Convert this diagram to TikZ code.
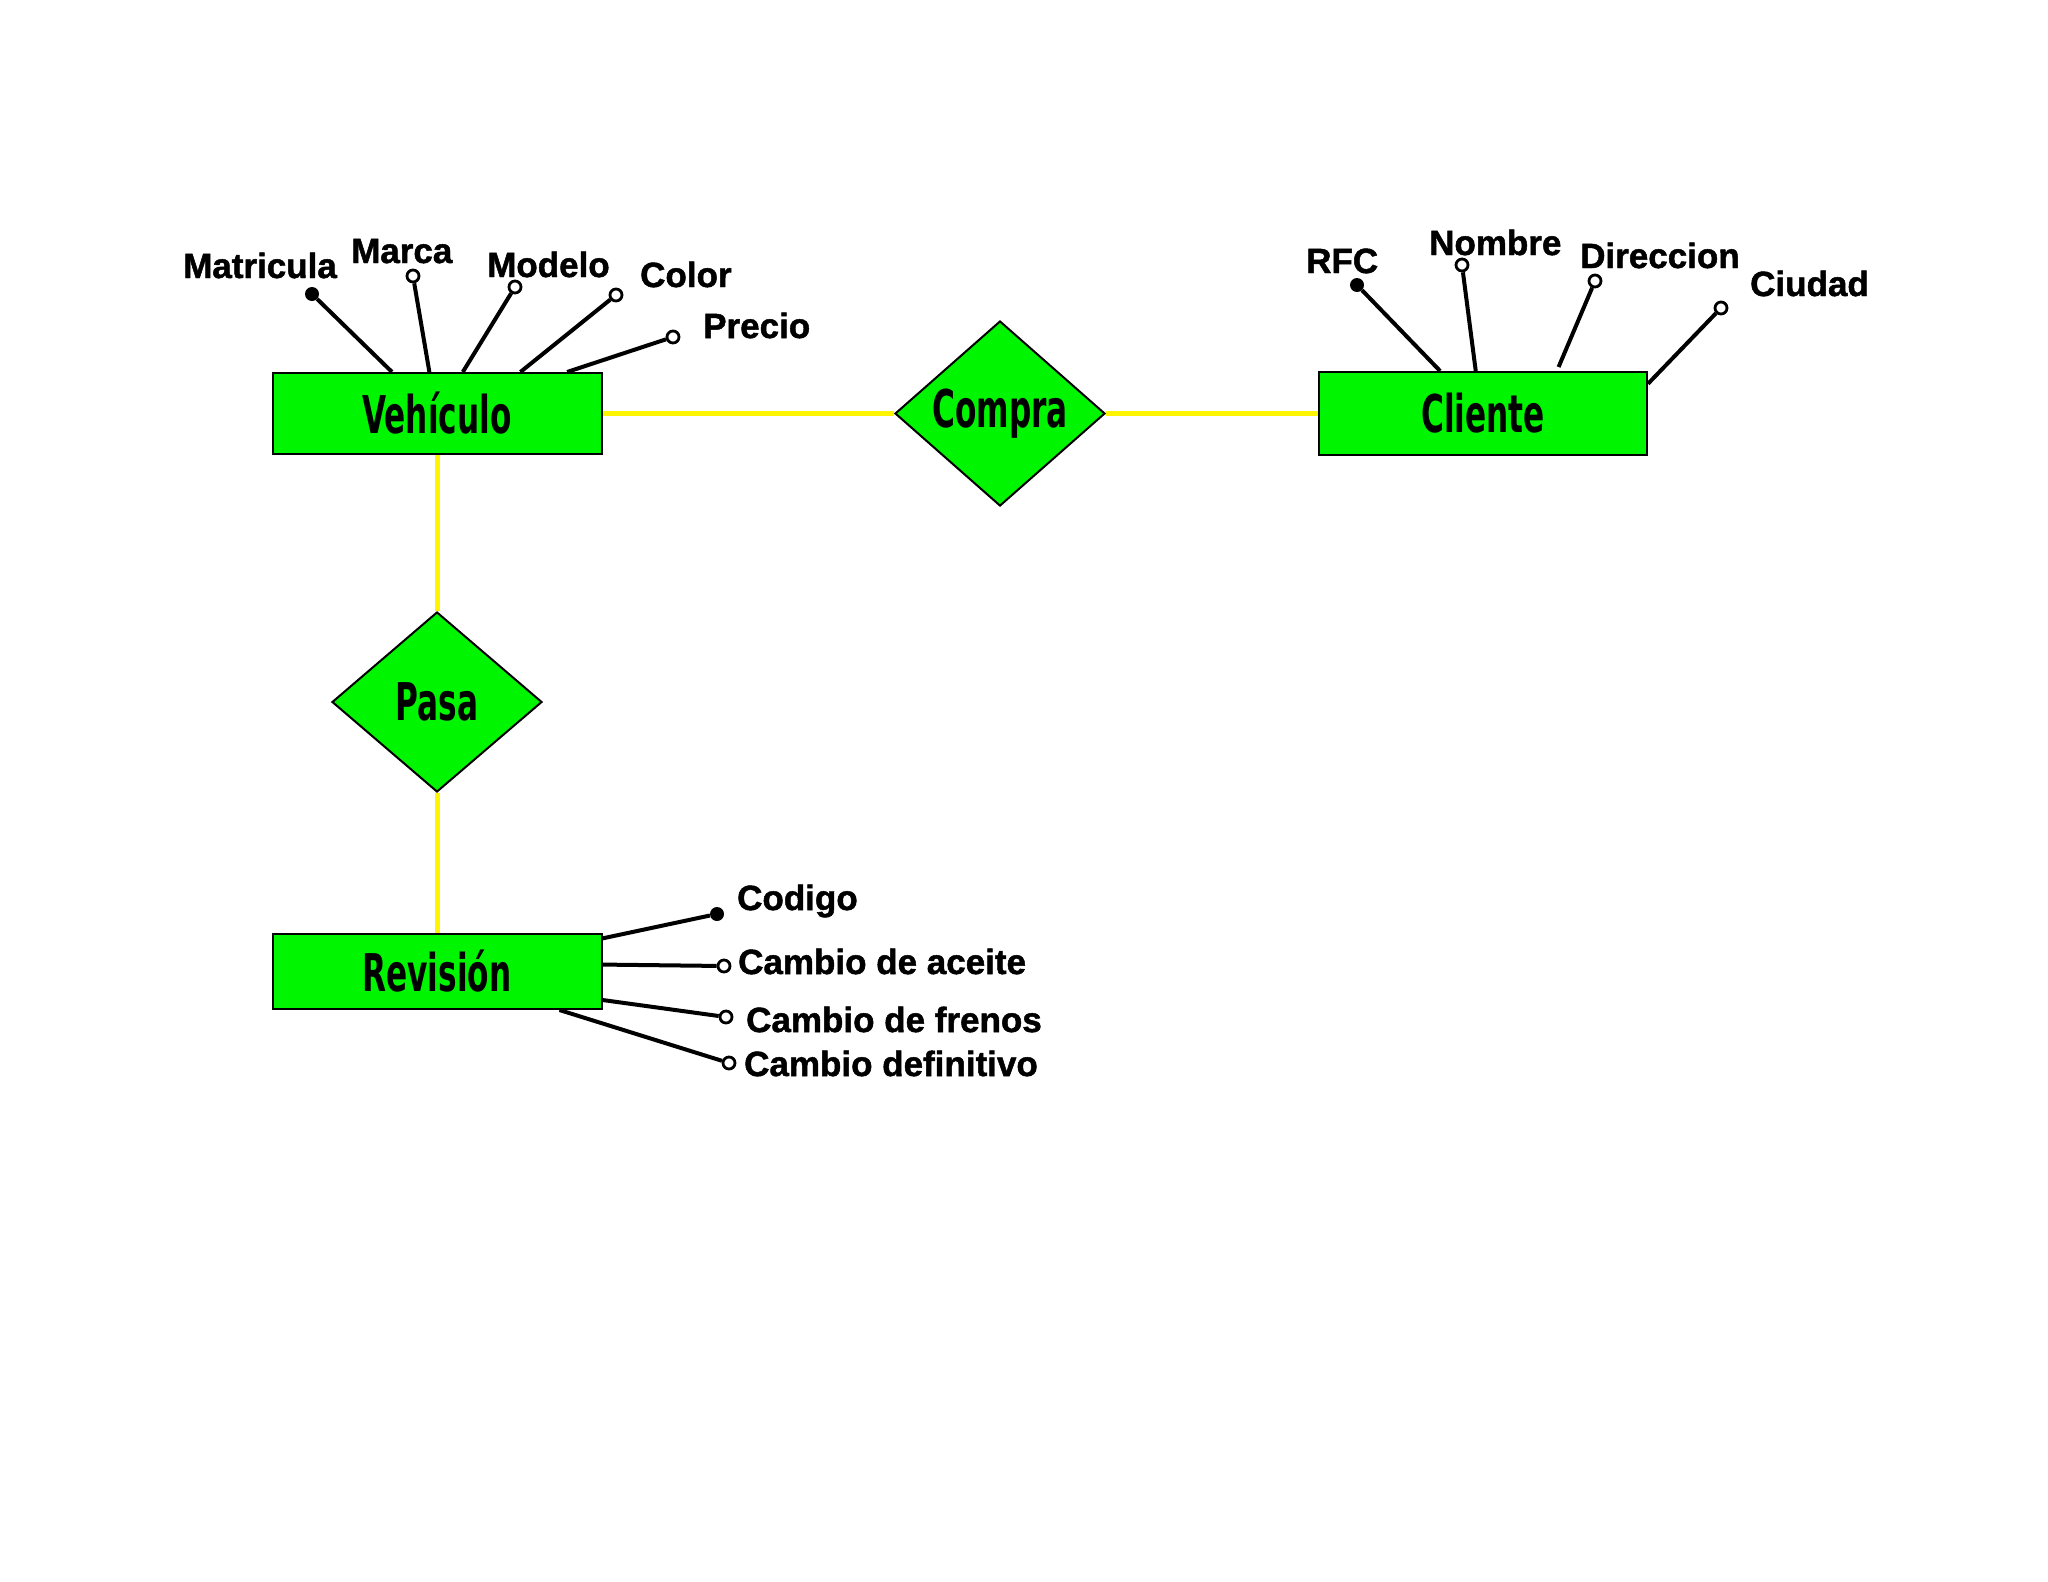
\documentclass[tikz,border=0pt]{standalone}
\usepackage{fontspec}
\setmainfont{Liberation Sans}[BoldFeatures={FakeBold=1.4}]
\newfontfamily\entfont[FakeStretch=0.6]{DejaVu Sans}
\usetikzlibrary{shapes.geometric,calc}

\definecolor{entgreen}{RGB}{0,245,0}
\definecolor{linkyellow}{RGB}{255,245,0}

\tikzset{
    entity/.style={draw=black, line width=2pt, fill=entgreen, inner sep=0pt,
        minimum width=329pt, minimum height=81pt,
        font=\entfont\bfseries\fontsize{52}{52}\selectfont},
    relation/.style={diamond, draw=black, line width=2pt, fill=entgreen, inner sep=0pt,
        minimum width=210pt, minimum height=180pt,
        font=\entfont\bfseries\fontsize{52}{52}\selectfont},
    keydot/.style={circle, fill=black, inner sep=0pt, minimum size=14pt},
    attdot/.style={circle, draw=black, fill=white, line width=2.8pt, inner sep=0pt, minimum size=12pt},
    attlabel/.style={anchor=base west, inner sep=0pt, font=\bfseries\fontsize{35}{35}\selectfont},
    attline/.style={line width=4pt},
    link/.style={linkyellow, line width=5pt}
}

\begin{document}
\begin{tikzpicture}[x=1pt,y=-1pt]

    \useasboundingbox[fill=white] (0,0) rectangle (2048,1582);

    % Entities and relations
    \node[entity] (veh) at (437,413.5) {Vehículo};
    \node[relation] (compra) at (1000,413.5) {Compra};
    \node[entity, minimum width=328pt, minimum height=83pt] (cli) at (1483,413.5) {Cliente};
    \node[relation] (pasa) at (437,702) {Pasa};
    \node[entity, minimum height=75pt] (rev) at (437,971.5) {Revisión};

    % Links
    \draw[link] (veh) -- (compra);
    \draw[link] (compra) -- (cli);
    \draw[link] (veh) -- (pasa);
    \draw[link] (pasa) -- (rev);

    % Vehiculo attributes
    \node[keydot] (matricula) at (312,294) {};
    \node[attdot] (marca) at (413,276) {};
    \node[attdot] (modelo) at (515,287) {};
    \node[attdot] (color) at (616,295) {};
    \node[attdot] (precio) at (673,337) {};
    \draw[attline] (matricula) -- ($(veh.north west)!0.364!(veh.north east)$);
    \draw[attline] (marca) -- ($(veh.north west)!0.477!(veh.north east)$);
    \draw[attline] (modelo) -- ($(veh.north west)!0.578!(veh.north east)$);
    \draw[attline] (color) -- ($(veh.north west)!0.752!(veh.north east)$);
    \draw[attline] (precio) -- ($(veh.north west)!0.893!(veh.north east)$);
    \node[attlabel] (lmatricula) at (183,278) {Matricula};
    \node[attlabel] (lmarca) at (351,263) {Marca};
    \node[attlabel] (lmodelo) at (487,277) {Modelo};
    \node[attlabel] (lcolor) at (640,287) {Color};
    \node[attlabel] (lprecio) at (703,338) {Precio};

    % Cliente attributes
    \node[keydot] (rfc) at (1357,285) {};
    \node[attdot] (nombre) at (1462,265) {};
    \node[attdot] (direccion) at (1595,281) {};
    \node[attdot] (ciudad) at (1721,308) {};
    \draw[attline] (rfc) -- ($(cli.north west)!0.37!(cli.north east)$);
    \draw[attline] (nombre) -- ($(cli.north west)!0.478!(cli.north east)$);
    \draw[attline] (direccion) -- ($(cli.north west)!0.729!(cli.north east)+(0,-4)$);
    \draw[attline] (ciudad) -- ($(cli.north east)!0.15!(cli.south east)$);
    \node[attlabel] (lrfc) at (1306,273) {RFC};
    \node[attlabel] (lnombre) at (1429,255) {Nombre};
    \node[attlabel] (ldireccion) at (1580,268) {Direccion};
    \node[attlabel] (lciudad) at (1750,296) {Ciudad};

    % Revision attributes
    \node[keydot] (codigo) at (717,914) {};
    \node[attdot] (aceite) at (724,966) {};
    \node[attdot] (frenos) at (726,1017) {};
    \node[attdot] (definitivo) at (729,1063) {};
    \draw[attline] (codigo) -- ($(rev.north east)!0.07!(rev.south east)$);
    \draw[attline] (aceite) -- ($(rev.north east)!0.41!(rev.south east)$);
    \draw[attline] (frenos) -- ($(rev.north east)!0.87!(rev.south east)$);
    \draw[attline] (definitivo) -- ($(rev.south west)!0.87!(rev.south east)$);
    \node[attlabel] (lcodigo) at (737,910) {Codigo};
    \node[attlabel] (laceite) at (738,974) {Cambio de aceite};
    \node[attlabel] (lfrenos) at (746,1032) {Cambio de frenos};
    \node[attlabel] (ldefinitivo) at (744,1076) {Cambio definitivo};

\end{tikzpicture}
\end{document}
